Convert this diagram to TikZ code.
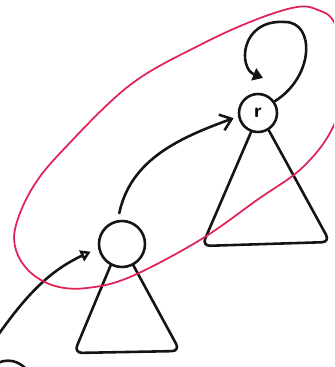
\documentclass[tikz,border=0pt]{standalone}
\usepackage{tikz}
\usetikzlibrary{arrows.meta, positioning, calc}
\definecolor{ink}{RGB}{20,20,20}
\definecolor{sccred}{RGB}{225,35,85}

\begin{document}
\begin{tikzpicture}[x=0.03cm, y=-0.03cm,
  vert/.style={circle, draw=ink, line width=2.2pt, inner sep=0pt},
  edge/.style={ink, line width=2.2pt, line cap=round},
  subtree/.style={ink, line width=2.2pt, rounded corners=7pt, line cap=round},
  region/.style={sccred, line width=1.5pt}]
  \clip (0,0) rectangle (334,367);
  % vertices
  \node[vert, minimum size=1.14cm, font=\LARGE\sffamily\bfseries] (root) at (258,113) {r};
  \node[vert, minimum size=1.38cm] (child) at (122,244) {};
  \node[vert, minimum size=1.4cm] (prev) at (8,384) {};
  \coordinate (entry) at (-4,338);
  % subtrees
  \draw[subtree] (root.-110) -- (202,246) -- (330,242) -- (root.-58);
  \draw[subtree] (child.-118) -- (74,353) -- (180,351) -- (child.-62);
  % edges
  \draw[edge, -{Straight Barb[length=3.2mm, width=5mm]}, shorten <=6pt, shorten >=4pt]
    (child.100) to[out=78, in=200] (root.190);
  \draw[edge, -{Triangle[open, length=3mm, width=3.5mm]}, shorten >=7pt]
    (entry) to[out=55, in=205] (child.190);
  \draw[edge, -{Triangle[length=3mm, width=3.8mm]}]
    (root.35) .. controls +(40,-25) and +(30,0) .. ($(root)+(27,-91)$)
    .. controls +(-45,-3) and +(-25,-10) .. ($(root)+(5,-35)$);
  % component outline
  \draw[region] plot[smooth cycle, tension=0.6] coordinates {
    (297,7) (318,10) (334,22) (350,65) (334,125) (303,167) (257,200)
    (200,240) (130,277) (87,288) (55,286) (30,272) (16,250) (16,225)
    (33,187) (63,150) (130,85) (200,45) (255,20)};
\end{tikzpicture}
\end{document}
